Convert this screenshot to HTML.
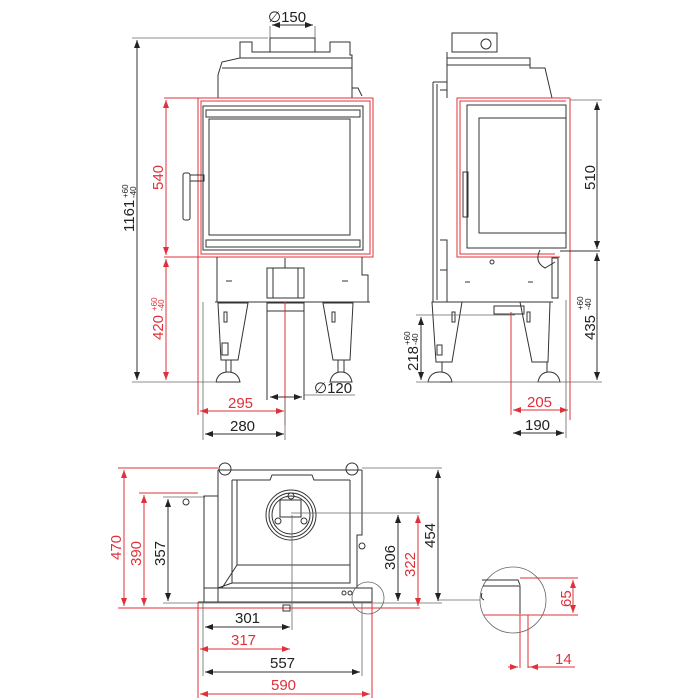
<!DOCTYPE html>
<html><head><meta charset="utf-8"><style>
html,body{margin:0;padding:0;background:#fff}
svg{display:block}
text{font-family:"Liberation Sans",sans-serif;font-size:15px}
.k{stroke:#333;fill:none;stroke-width:1}
.g{stroke:#666;fill:none;stroke-width:0.8}
.r{stroke:#e0303a;fill:none;stroke-width:1}
.rt{fill:#e0303a}
.kt{fill:#222}
</style></head><body>
<svg width="700" height="700" viewBox="0 0 700 700" xmlns="http://www.w3.org/2000/svg">
<defs>
<marker id="ak" markerWidth="8" markerHeight="6" refX="8" refY="3" orient="auto-start-reverse"><path d="M0,0 L8,3 L0,6z" fill="#222"/></marker>
<marker id="ar" markerWidth="8" markerHeight="6" refX="8" refY="3" orient="auto-start-reverse"><path d="M0,0 L8,3 L0,6z" fill="#e0303a"/></marker>
</defs>

<!-- ============ FRONT VIEW ============ -->
<!-- 1161 dim -->
<line class="g" x1="132" y1="38" x2="268" y2="38"/>
<line class="g" x1="132" y1="382" x2="215" y2="382"/>
<line class="k" x1="137" y1="40" x2="137" y2="380" marker-start="url(#ak)" marker-end="url(#ak)"/>
<text class="kt" transform="translate(134,232) rotate(-90)">1161</text>
<text class="kt" style="font-size:8px" transform="translate(128,198) rotate(-90)">+60</text>
<text class="kt" style="font-size:8px" transform="translate(136,198) rotate(-90)">-40</text>
<!-- phi150 -->
<text class="kt" x="268" y="22">∅150</text>
<line class="g" x1="270" y1="26" x2="270" y2="38"/><line class="g" x1="315" y1="26" x2="315" y2="38"/>
<line class="k" x1="272" y1="25" x2="313" y2="25" marker-start="url(#ak)" marker-end="url(#ak)"/>
<!-- chimney collar and top -->
<rect class="k" x="270" y="38" width="45" height="14"/>
<path class="k" d="M240,52 L240,42 L252,42 L252,52 L270,52 M315,52 L330,52 L330,42 L350,42 L350,55 L352,55 L352,98"/>
<path class="k" d="M240,52 L240,58 L222,62 L218,75 L218,98"/>
<line class="k" x1="240" y1="58" x2="352" y2="58"/>
<line class="k" x1="222" y1="68" x2="352" y2="68"/>
<path class="k" d="M352,88 L358,88 L362,96"/>
<!-- red frame front -->
<rect class="r" x="198" y="98" width="175" height="159"/>
<rect class="r" x="201" y="101" width="169" height="153"/>
<!-- door -->
<rect class="k" x="203" y="106" width="160" height="144"/>
<rect class="k" x="206" y="110" width="154" height="7"/>
<rect class="k" x="209" y="119" width="141" height="116"/>
<rect class="k" x="206" y="240" width="154" height="7"/>
<!-- handle -->
<rect class="k" x="183" y="173" width="7" height="47" rx="2"/>
<rect class="k" x="190" y="175" width="14" height="6"/>
<!-- lower body -->
<path class="k" d="M217,257 L217,302 L368,302 L368,275 L362,275 L362,257"/>
<line class="k" x1="215" y1="302" x2="370" y2="302"/>
<line class="k" x1="226" y1="281" x2="232" y2="281"/><line class="k" x1="342" y1="281" x2="348" y2="281"/>
<rect class="k" x="267" y="268" width="37" height="30"/>
<rect class="k" x="273" y="268" width="25" height="30"/>
<line class="k" x1="285" y1="258" x2="285" y2="268"/>
<!-- legs -->
<path class="k" d="M218,303 L248,303 L238,360 L221,360 Z"/>
<path class="k" d="M323,303 L353,303 L350,360 L333,360 Z"/>
<rect class="k" x="224" y="312" width="3" height="10"/><rect class="k" x="332" y="312" width="3" height="10"/>
<rect class="k" x="222" y="343" width="6" height="12"/>
<path class="k" d="M226,360 L226,372 M231,360 L231,372 M216,382 Q218,372 228,372 Q238,372 240,382 Z"/>
<path class="k" d="M338,360 L338,372 M344,360 L344,372 M330,382 Q332,372 341,372 Q350,372 352,382 Z"/>
<!-- pipe -->
<rect class="k" x="267" y="303" width="37" height="8"/>
<line class="k" x1="267" y1="311" x2="267" y2="400"/><line class="k" x1="304" y1="311" x2="304" y2="400"/>
<line class="r" x1="285" y1="302" x2="285" y2="425"/>
<!-- phi120 -->
<line class="g" x1="304" y1="395" x2="355" y2="395"/>
<line class="k" x1="270" y1="397" x2="302" y2="397" marker-start="url(#ak)" marker-end="url(#ak)"/>
<text class="kt" x="314" y="393">∅120</text>
<!-- red dims 540 / 420 -->
<line class="r" x1="164" y1="98" x2="198" y2="98"/><line class="r" x1="164" y1="257" x2="198" y2="257"/>
<line class="r" x1="166" y1="100" x2="166" y2="255" marker-start="url(#ar)" marker-end="url(#ar)"/>
<line class="r" x1="166" y1="259" x2="166" y2="380" marker-start="url(#ar)" marker-end="url(#ar)"/>
<text class="rt" transform="translate(163,190) rotate(-90)">540</text>
<text class="rt" transform="translate(163,340) rotate(-90)">420</text>
<text class="rt" style="font-size:8px" transform="translate(157,311) rotate(-90)">+60</text>
<text class="rt" style="font-size:8px" transform="translate(164,311) rotate(-90)">-40</text>
<!-- 295 / 280 -->
<line class="r" x1="198" y1="257" x2="198" y2="415"/>
<line class="g" x1="203" y1="302" x2="203" y2="440"/>
<line class="r" x1="200" y1="411" x2="284" y2="411" marker-start="url(#ar)" marker-end="url(#ar)"/>
<text class="rt" x="228" y="408">295</text>
<line class="k" x1="205" y1="434" x2="284" y2="434" marker-start="url(#ak)" marker-end="url(#ak)"/>
<line class="g" x1="285" y1="400" x2="285" y2="440"/>
<text class="kt" x="230" y="431">280</text>

<!-- ============ SIDE VIEW ============ -->
<rect class="k" x="452" y="33" width="45" height="19"/>
<circle class="k" cx="486" cy="44" r="5"/>
<path class="k" d="M447,52 L447,58 L530,58 L530,68 L545,68 L552,98"/>
<path class="k" d="M447,58 L447,98"/>
<line class="k" x1="447" y1="65" x2="530" y2="65"/>
<path class="k" d="M433,82 L447,82 M433,82 L433,302 M437,84 L437,300 M440,90 L447,90 L447,98"/>
<path class="k" d="M440,240 L447,240 L447,270 L440,270"/>
<!-- red frame side -->
<path class="r" d="M570,98 L457,98 L457,257 L560,257"/>
<path class="r" d="M566,101 L460,101 L460,254 L555,254"/>
<line class="r" x1="570" y1="98" x2="570" y2="420"/>
<!-- door side -->
<rect class="k" x="467" y="105" width="99" height="143"/>
<rect class="k" x="479" y="118" width="87" height="115"/>
<rect class="k" x="463" y="172" width="5" height="45"/>
<circle class="k" cx="492" cy="262" r="2"/>
<path class="k" d="M447,257 L447,302 L553,302"/>
<line class="k" x1="465" y1="282" x2="470" y2="282"/><line class="k" x1="528" y1="282" x2="533" y2="282"/>
<path class="k" d="M540,250 Q534,262 545,268 L555,262"/>
<rect class="k" x="552" y="258" width="6" height="40"/>
<line class="k" x1="560" y1="251" x2="600" y2="251"/>
<!-- legs side -->
<line class="k" x1="432" y1="302" x2="553" y2="302"/>
<path class="k" d="M432,302 L462,302 L452,362 L436,362 Z"/>
<path class="k" d="M520,302 L550,302 L548,362 L532,362 Z"/>
<rect class="k" x="437" y="345" width="5" height="10"/>
<rect class="k" x="452" y="312" width="3" height="10"/><rect class="k" x="527" y="312" width="3" height="10"/>
<path class="k" d="M428,382 Q430,372 440,372 Q450,372 452,382 Z M538,382 Q540,372 549,372 Q558,372 560,382 Z"/>
<line class="k" x1="442" y1="362" x2="442" y2="372"/><line class="k" x1="547" y1="362" x2="547" y2="372"/>
<rect class="k" x="494" y="306" width="30" height="8"/>
<line class="r" x1="511" y1="312" x2="511" y2="415"/>
<!-- 510 / 435 / 218 -->
<line class="g" x1="570" y1="100" x2="602" y2="100"/>
<line class="g" x1="452" y1="382" x2="602" y2="382"/>
<line class="k" x1="597" y1="102" x2="597" y2="249" marker-start="url(#ak)" marker-end="url(#ak)"/>
<line class="k" x1="597" y1="253" x2="597" y2="380" marker-start="url(#ak)" marker-end="url(#ak)"/>
<text class="kt" transform="translate(595,190) rotate(-90)">510</text>
<text class="kt" transform="translate(595,340) rotate(-90)">435</text>
<text class="kt" style="font-size:8px" transform="translate(583,310) rotate(-90)">+60</text>
<text class="kt" style="font-size:8px" transform="translate(591,310) rotate(-90)">-40</text>
<line class="g" x1="416" y1="315" x2="515" y2="315"/>
<line class="g" x1="416" y1="382" x2="440" y2="382"/>
<line class="k" x1="421" y1="317" x2="421" y2="380" marker-start="url(#ak)" marker-end="url(#ak)"/>
<text class="kt" transform="translate(418,371) rotate(-90)">218</text>
<text class="kt" style="font-size:8px" transform="translate(410,345) rotate(-90)">+60</text>
<text class="kt" style="font-size:8px" transform="translate(418,345) rotate(-90)">-40</text>
<!-- 205 / 190 -->
<line class="r" x1="513" y1="410" x2="568" y2="410" marker-start="url(#ar)" marker-end="url(#ar)"/>
<text class="rt" x="527" y="407">205</text>
<line class="g" x1="566" y1="300" x2="566" y2="438"/>
<line class="k" x1="513" y1="433" x2="564" y2="433" marker-start="url(#ak)" marker-end="url(#ak)"/>
<text class="kt" x="525" y="430">190</text>

<!-- ============ PLAN VIEW ============ -->
<line class="r" x1="118" y1="468" x2="218" y2="468"/>
<line class="g" x1="362" y1="468" x2="442" y2="468"/>
<line class="r" x1="139" y1="493" x2="198" y2="493"/>
<line class="g" x1="163" y1="497" x2="205" y2="497"/>
<line class="r" x1="118" y1="608" x2="420" y2="608"/>
<line class="g" x1="163" y1="603" x2="442" y2="603"/>
<line class="r" x1="124" y1="470" x2="124" y2="606" marker-start="url(#ar)" marker-end="url(#ar)"/>
<text class="rt" transform="translate(121,560) rotate(-90)">470</text>
<line class="r" x1="144" y1="495" x2="144" y2="606" marker-start="url(#ar)" marker-end="url(#ar)"/>
<text class="rt" transform="translate(141,566) rotate(-90)">390</text>
<line class="k" x1="168" y1="499" x2="168" y2="601" marker-start="url(#ak)" marker-end="url(#ak)"/>
<text class="kt" transform="translate(165,566) rotate(-90)">357</text>
<!-- body -->
<circle class="k" cx="225" cy="469" r="6"/><circle class="k" cx="352" cy="469" r="6"/>
<path class="k" d="M218,470 L218,588 M362,470 L362,535 L357,535 L357,588"/>
<line class="k" x1="218" y1="470" x2="362" y2="470"/>
<path class="k" d="M232,480 L270,480 L272,475 L312,475 L314,480 L350,480"/>
<path class="k" d="M232,480 L232,583 L350,583 L350,480"/>
<path class="k" d="M237,480 L237,565 L255,565 L350,565"/>
<path class="k" d="M218,588 L232,583 M237,565 L222,588"/>
<rect class="k" x="204" y="496" width="14" height="106"/>
<circle class="k" cx="186" cy="502" r="3"/>
<rect class="k" x="204" y="588" width="168" height="14"/>
<line class="k" x1="198" y1="602" x2="372" y2="602"/>
<circle class="k" cx="344" cy="593" r="2"/><circle class="k" cx="350" cy="593" r="2"/>
<circle class="k" cx="362" cy="546" r="3"/>
<rect class="k" x="283" y="605" width="7" height="6"/>
<!-- flue circle -->
<circle class="k" cx="291" cy="515" r="25"/>
<circle class="k" cx="291" cy="515" r="22"/>
<circle class="k" cx="291" cy="515" r="19"/>
<rect class="k" x="280" y="500" width="21" height="17"/>
<circle class="k" cx="291" cy="496" r="3"/><circle class="k" cx="278" cy="521" r="3"/><circle class="k" cx="304" cy="521" r="3"/>
<line class="g" x1="291" y1="513" x2="420" y2="513"/>
<line class="g" x1="292" y1="515" x2="292" y2="630"/>
<!-- right dims -->
<line class="k" x1="398" y1="515" x2="398" y2="601" marker-start="url(#ak)" marker-end="url(#ak)"/>
<text class="kt" transform="translate(395,570) rotate(-90)">306</text>
<line class="r" x1="418" y1="515" x2="418" y2="606" marker-start="url(#ar)" marker-end="url(#ar)"/>
<text class="rt" transform="translate(415,577) rotate(-90)">322</text>
<line class="k" x1="438" y1="470" x2="438" y2="601" marker-start="url(#ak)" marker-end="url(#ak)"/>
<text class="kt" transform="translate(435,548) rotate(-90)">454</text>
<!-- bottom dims -->
<line class="r" x1="198" y1="602" x2="198" y2="698"/>
<line class="g" x1="203" y1="602" x2="203" y2="676"/>
<line class="g" x1="362" y1="602" x2="362" y2="676"/>
<line class="r" x1="372" y1="602" x2="372" y2="698"/>
<line class="k" x1="205" y1="627" x2="290" y2="627" marker-start="url(#ak)" marker-end="url(#ak)"/>
<text class="kt" x="235" y="623">301</text>
<line class="r" x1="200" y1="649" x2="290" y2="649" marker-start="url(#ar)" marker-end="url(#ar)"/>
<text class="rt" x="231" y="645">317</text>
<line class="k" x1="205" y1="672" x2="360" y2="672" marker-start="url(#ak)" marker-end="url(#ak)"/>
<text class="kt" x="270" y="668">557</text>
<line class="r" x1="200" y1="694" x2="370" y2="694" marker-start="url(#ar)" marker-end="url(#ar)"/>
<text class="rt" x="271" y="690">590</text>
<!-- detail circles -->
<circle class="g" cx="368" cy="598" r="16"/>
<line class="g" x1="438" y1="600" x2="480" y2="600"/>
<circle class="g" cx="513" cy="600" r="33"/>
<path class="k" d="M482,580 L518,580 L520,585 M483,586 L520,586 L520,614 M482,593 Q480,598 484,600"/>
<line class="r" x1="520" y1="578" x2="578" y2="578"/>
<line class="r" x1="484" y1="615" x2="578" y2="615"/>
<line class="r" x1="520" y1="615" x2="520" y2="668"/>
<line class="r" x1="528" y1="615" x2="528" y2="668"/>
<line class="r" x1="573" y1="580" x2="573" y2="613" marker-start="url(#ar)" marker-end="url(#ar)"/>
<text class="rt" transform="translate(571,607) rotate(-90)">65</text>
<line class="r" x1="508" y1="667" x2="518" y2="667" marker-end="url(#ar)"/>
<line class="r" x1="540" y1="667" x2="530" y2="667" marker-end="url(#ar)"/>
<line class="r" x1="528" y1="667" x2="575" y2="667"/>
<text class="rt" x="555" y="664">14</text>
</svg>
</body></html>
